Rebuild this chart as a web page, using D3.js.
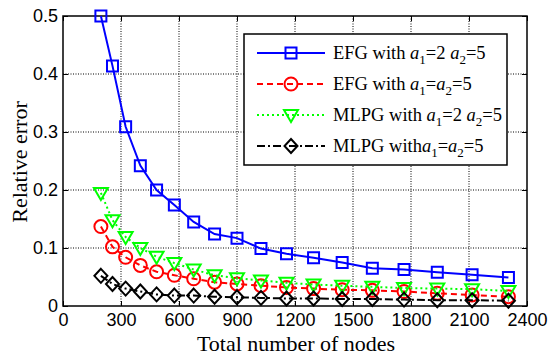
<!DOCTYPE html>
<html><head><meta charset="utf-8">
<script src="https://cdn.jsdelivr.net/npm/d3@7"></script>
<style>body{margin:0;background:#fff}svg{display:block}</style>
</head><body><svg id="c" width="548" height="355"></svg>
<script>
const nodes = [196,256,324,400,484,576,676,784,900,1024,1156,1296,1444,1600,1764,1936,2116,2304];
const efgA = [0.500,0.414,0.309,0.242,0.200,0.174,0.145,0.124,0.117,0.099,0.090,0.083,0.075,0.065,0.063,0.058,0.054,0.049];
const efgB = [0.137,0.102,0.084,0.070,0.059,0.053,0.047,0.041,0.038,0.035,0.032,0.030,0.028,0.027,0.025,0.022,0.019,0.016];
const mlpgA = [0.195,0.148,0.119,0.100,0.085,0.074,0.063,0.053,0.048,0.044,0.040,0.037,0.035,0.033,0.031,0.030,0.029,0.026];
const mlpgB = [0.052,0.038,0.030,0.025,0.020,0.018,0.018,0.016,0.015,0.014,0.013,0.013,0.012,0.012,0.011,0.010,0.010,0.009];
const xTicks = [0,300,600,900,1200,1500,1800,2100,2400];
const yTicks = [0,0.1,0.2,0.3,0.4,0.5];
const seriesNames = ["EFG with ", "EFG with ", "MLPG with ", "MLPG with"];

const svg = d3.select("#c");
const L=63, R=527, T=16, B=306;
const x = d3.scaleLinear().domain([0,2400]).range([L,R]);
const y = d3.scaleLinear().domain([0,0.5]).range([B,T]);

// grid
const g = svg.append("g");
g.selectAll(".gx").data(xTicks.slice(1,-1)).join("line")
  .attr("x1",d=>x(d)).attr("x2",d=>x(d)).attr("y1",T).attr("y2",B)
  .attr("stroke","#000").attr("stroke-width",1).attr("stroke-dasharray","1,1.5");
g.selectAll(".gy").data(yTicks.slice(1,-1)).join("line")
  .attr("y1",d=>y(d)).attr("y2",d=>y(d)).attr("x1",L).attr("x2",R)
  .attr("stroke","#000").attr("stroke-width",1).attr("stroke-dasharray","1,1.5");

// axes
const ax = svg.append("g").attr("transform",`translate(0,${B})`)
  .call(d3.axisBottom(x).tickValues(xTicks).tickSize(-5).tickPadding(7).tickFormat(d3.format("d")));
const axT = svg.append("g").attr("transform",`translate(0,${T})`)
  .call(d3.axisTop(x).tickValues(xTicks).tickSize(-5).tickFormat(""));
const ay = svg.append("g").attr("transform",`translate(${L},0)`)
  .call(d3.axisLeft(y).tickValues(yTicks).tickSize(-5).tickPadding(5).tickFormat(d=>d===0?"0":d3.format(".1f")(d)));
const ayR = svg.append("g").attr("transform",`translate(${R},0)`)
  .call(d3.axisRight(y).tickValues(yTicks).tickSize(-5).tickFormat(""));
[ax,axT,ay,ayR].forEach(a=>{
  a.select(".domain").remove();
  a.selectAll("line").attr("stroke","#000").attr("stroke-width",1);
  a.selectAll("text").attr("fill","#000").style("font-family","'Liberation Sans',Arial,sans-serif").style("font-size","18px");
});
svg.append("rect").attr("x",L).attr("y",T).attr("width",R-L).attr("height",B-T)
  .attr("fill","none").attr("stroke","#000").attr("stroke-width",1.5);

// series
const series = [
  {v:efgA, color:"#0000ff", dash:null, m:"square"},
  {v:efgB, color:"#ff0000", dash:"6,4", m:"circle"},
  {v:mlpgA, color:"#00ff00", dash:"2,3", m:"tri"},
  {v:mlpgB, color:"#000000", dash:"8,3,2,3", m:"diamond"}
];
function marker(sel, m, color){
  let p;
  if(m==="square") p="M-5.5,-5.5H5.5V5.5H-5.5Z";
  else if(m==="circle") p=null;
  else if(m==="tri") p="M-7,-5H7L0,7Z";
  else p="M0,-7L6.5,0L0,7L-6.5,0Z";
  if(p) sel.append("path").attr("d",p);
  else sel.append("circle").attr("r",6.5);
  sel.selectAll("path,circle").attr("fill","none").attr("stroke",color).attr("stroke-width",2);
}
const line = d3.line().x((d,i)=>x(nodes[i])).y(d=>y(d));
series.forEach(s=>{
  svg.append("path").attr("d",line(s.v)).attr("fill","none").attr("stroke",s.color)
    .attr("stroke-width",2).attr("stroke-dasharray",s.dash);
  svg.append("g").selectAll("g").data(s.v).join("g")
    .attr("transform",(d,i)=>`translate(${x(nodes[i])},${y(d)})`)
    .each(function(){ marker(d3.select(this), s.m, s.color); });
});

// legend
const lg = svg.append("g");
lg.append("rect").attr("x",244).attr("y",34).attr("width",263).attr("height",131)
  .attr("fill","#fff").attr("stroke","#000").attr("stroke-width",1.5);
const rowsY = [53,84,115,146];
const subs = [["=2 ","a","2","=5"],["=","a","2","=5"],["=2 ","a","2","=5"],["=","a","2","=5"]];
series.forEach((s,i)=>{
  const yy = rowsY[i];
  lg.append("line").attr("x1",257).attr("x2",325).attr("y1",yy).attr("y2",yy)
    .attr("stroke",s.color).attr("stroke-width",2).attr("stroke-dasharray",s.dash);
  marker(lg.append("g").attr("transform",`translate(291,${yy})`), s.m, s.color);
  const t = lg.append("text").attr("x",333).attr("y",yy+6)
    .style("font-family","'Liberation Serif','Times New Roman',serif").style("font-size","18.5px").attr("fill","#000");
  t.append("tspan").text(seriesNames[i]);
  t.append("tspan").attr("font-style","italic").text("a");
  t.append("tspan").attr("dy",5).style("font-size","13px").text("1");
  t.append("tspan").attr("dy",-5).text(subs[i][0]);
  t.append("tspan").attr("font-style","italic").text(subs[i][1]);
  t.append("tspan").attr("dy",5).style("font-size","13px").text(subs[i][2]);
  t.append("tspan").attr("dy",-5).text(subs[i][3]);
});

// axis labels
svg.append("text").attr("x",296).attr("y",351).attr("text-anchor","middle")
  .style("font-family","'Liberation Serif','Times New Roman',serif").style("font-size","22px").text("Total number of nodes");
svg.append("text").attr("transform",`translate(27,${(T+B)/2+1}) rotate(-90)`).attr("text-anchor","middle")
  .style("font-family","'Liberation Serif','Times New Roman',serif").style("font-size","22px").text("Relative error");
</script></body></html>
